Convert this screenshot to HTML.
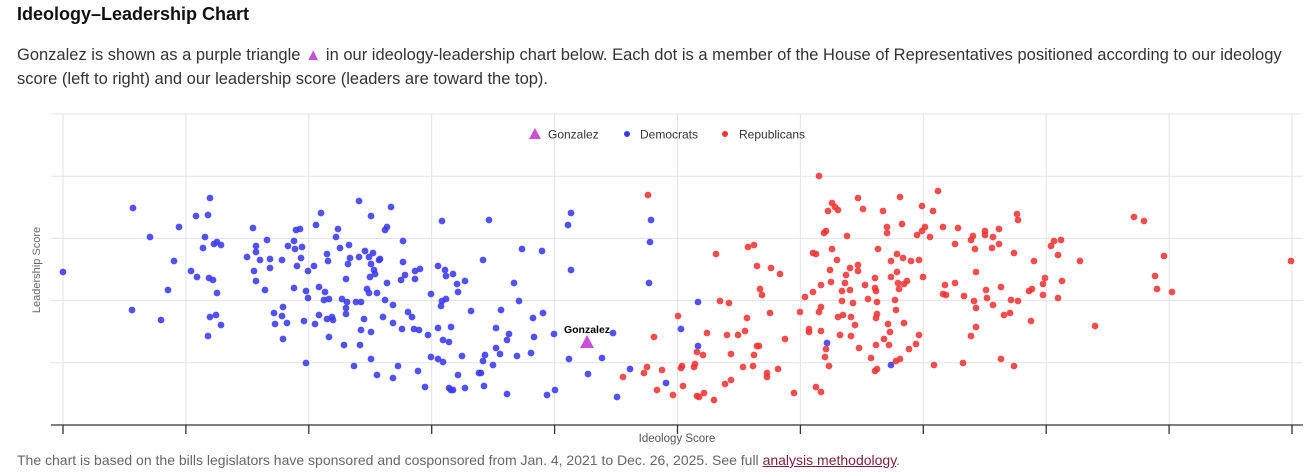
<!DOCTYPE html>
<html><head><meta charset="utf-8">
<style>
body{margin:0;background:#fff;width:1312px;height:476px;overflow:hidden;font-family:"Liberation Sans",Arial,sans-serif;}
h2{position:absolute;left:17px;top:4px;margin:0;font-size:18px;font-weight:bold;color:#111;}
p.desc{position:absolute;left:17px;top:44px;width:1272px;margin:0;font-size:16.5px;line-height:23.5px;color:#333;}
p.foot{position:absolute;left:17px;top:452px;margin:0;font-size:14px;color:#666;}
p.foot a{color:#7a1f3d;text-decoration:underline;}
svg{position:absolute;left:0;top:0;}
</style></head><body>
<h2>Ideology–Leadership Chart</h2>
<p class="desc">Gonzalez is shown as a purple triangle <span style="color:#c94fd6">▲</span> in our ideology-leadership chart below. Each dot is a member of the House of Representatives positioned according to our ideology score (left to right) and our leadership score (leaders are toward the top).</p>
<svg id="chart" width="1312" height="476"></svg>
<p class="foot">The chart is based on the bills legislators have sponsored and cosponsored from Jan. 4, 2021 to Dec. 26, 2025. See full <a>analysis methodology</a>.</p>
<script>
const demX=[0,70,87,69,98,105,111,116,133,147,145,142,140,151,154,158,128,134,146,150,154,147,153,158,145,190,184,193,193,197,191,193,202,204,207,207,219,225,231,232,233,237,239,238,234,231,220,211,219,212,224,220,241,243,245,245,243,251,253,258,256,262,261,266,264,265,256,252,264,269,270,266,273,275,277,286,287,285,283,279,284,283,283,281,291,293,298,296,296,302,306,310,308,308,307,311,312,304,306,314,316,317,301,298,308,297,308,314,322,324,328,324,322,330,320,330,339,335,330,340,340,342,338,352,357,352,345,349,351,356,365,355,362,368,375,379,382,383,390,394,395,379,383,378,375,388,380,386,368,375,380,395,386,390,388,426,420,402,451,459,479,456,408,438,470,480,433,446,444,471,491,399,422,420,437,454,468,433,430,416,418,402,421,444,484,492,505,508,508,506,525,539,550,554,567,588,587,586,603,618,635,635,764,828];
const demY=[153,217,188,115,105,135,164,198,209,227,210,188,177,181,183,180,154,148,147,145,132,108,110,100,89,197,168,179,173,165,154,144,135,185,166,157,165,179,184,176,195,196,178,167,159,137,118,112,109,101,102,86,104,134,154,127,62,159,200,212,138,133,125,126,171,164,110,101,106,108,105,88,188,196,177,180,167,161,146,126,123,117,111,80,59,123,123,224,168,174,168,172,209,161,148,155,151,136,132,132,165,166,106,95,93,80,66,50,195,198,218,142,125,120,108,102,96,59,47,184,163,150,145,154,156,146,113,108,96,95,90,54,38,131,159,204,155,149,151,141,133,124,126,119,97,98,85,83,68,66,63,50,37,35,35,205,165,144,142,176,174,124,114,115,107,112,97,91,85,88,91,69,70,64,71,69,72,77,60,52,52,37,39,31,30,35,200,212,155,66,51,67,92,28,56,205,183,142,42,96,123,79,82,60];
const repX=[585,615,591,560,581,584,594,599,610,618,619,620,631,632,634,640,634,636,641,651,644,653,657,666,664,668,662,668,675,682,684,680,690,691,694,696,685,691,694,697,699,707,708,717,722,704,704,715,731,737,742,746,746,750,758,758,756,758,753,758,762,763,766,756,750,753,769,774,767,768,761,763,765,769,772,775,784,783,782,787,787,779,779,790,775,780,788,792,777,788,795,795,795,796,800,802,805,808,812,814,813,813,814,814,812,813,812,815,820,824,824,837,839,828,834,840,848,856,834,828,835,836,841,844,832,833,825,827,821,826,841,846,853,856,833,837,859,870,875,854,859,862,867,860,871,880,895,892,882,880,883,892,901,900,908,910,912,922,922,930,936,929,936,913,911,913,923,924,930,938,913,908,941,947,948,955,938,951,951,954,955,971,966,969,968,980,982,980,995,999,995,988,991,998,1017,1032,1071,1081,1101,1092,1094,1109,1228];
const repY=[230,109,88,48,52,58,35,55,30,57,59,39,58,61,73,70,29,28,32,25,92,171,124,122,90,71,41,45,90,94,107,58,59,70,79,79,178,180,159,136,130,112,157,151,86,52,48,56,32,113,128,96,93,133,140,94,113,118,38,33,68,76,59,249,172,171,176,165,155,143,192,194,214,222,218,215,189,150,142,157,135,134,124,122,108,110,108,100,90,89,227,160,154,77,216,140,126,67,54,56,80,107,111,123,137,134,147,176,214,198,192,228,201,164,171,167,164,165,153,148,142,136,141,144,125,115,101,93,86,80,102,76,81,90,64,66,219,214,234,190,194,198,188,148,60,198,197,181,140,131,130,142,129,62,185,189,176,194,190,188,196,177,181,153,124,117,135,127,120,138,98,89,110,112,125,124,66,59,172,211,205,164,134,136,104,141,147,130,127,144,170,179,184,185,164,99,208,204,169,149,136,133,164];
const gonzX=[524], gonzY=[83];
const xTicks=[0,1,2,3,4,5,6,7,8,9,10];
const yGrid=[1,2,3,4,5];
const NS='http://www.w3.org/2000/svg';
const svg=document.getElementById('chart');
const X0=63,X1=1292,Y0=425,Y1=114;
const xs=d=>X0+d*(X1-X0)/1229;
const ys=d=>Y0-d*(Y0-Y1)/311;
const tickX=i=>X0+i*(X1-X0)/10;
const gridY=i=>Y0-i*(Y0-Y1)/5;
function mk(tag,attrs){const e=document.createElementNS(NS,tag);for(const k in attrs)e.setAttribute(k,attrs[k]);svg.appendChild(e);return e;}
xTicks.forEach(t=>{
 const l=mk('line',{x1:tickX(t),x2:tickX(t),y1:Y1,y2:Y0,stroke:'#e3e3e3','stroke-width':1});
 
 
 const k=mk('line',{x1:tickX(t),x2:tickX(t),y1:Y0,y2:Y0+9,stroke:'#333','stroke-width':1.3});
 
 
});
yGrid.forEach(t=>{
 const l=mk('line',{x1:51,x2:1303,y1:gridY(t),y2:gridY(t),stroke:'#e3e3e3','stroke-width':1});
 
 
});
const ax=mk('line',{x1:51,x2:1303,y1:Y0,y2:Y0,stroke:'#333','stroke-width':1.3});


demX.forEach((v,i)=>{
 const c=mk('circle',{cx:xs(v),cy:ys(demY[i]),r:3.4,fill:'#3a3af2','fill-opacity':0.88});
 
 
});
repX.forEach((v,i)=>{
 const c=mk('circle',{cx:xs(v),cy:ys(repY[i]),r:3.4,fill:'#f03535','fill-opacity':0.88});
 
 
});
gonzX.forEach((v,i)=>{
 const cx=xs(v),cy=ys(gonzY[i]);
 const p=mk('polygon',{points:`${cx},${cy-7} ${cx-7},${cy+6} ${cx+7},${cy+6}`,fill:'#c94fd6'});
 
 
 const t=mk('text',{x:cx,y:cy-9,'text-anchor':'middle','font-size':10.5,'font-weight':'bold',fill:'#000','font-family':'Liberation Sans, Arial, sans-serif'});
 t.textContent='Gonzalez';
 
 
});
const yt=mk('text',{x:0,y:0,transform:'translate(40,270) rotate(-90)','text-anchor':'middle','font-size':11,fill:'#666','font-family':'Liberation Sans, Arial, sans-serif'});
yt.textContent='Leadership Score';


const xt=mk('text',{x:677,y:442,'text-anchor':'middle','font-size':11.5,fill:'#555','font-family':'Liberation Sans, Arial, sans-serif'});
xt.textContent='Ideology Score';


const lg=mk('polygon',{points:'535,128 529,139 541,139',fill:'#c94fd6'});


const legItems=[[548,'Gonzalez'],[640,'Democrats'],[739,'Republicans']];
const ld=mk('circle',{cx:627,cy:134,r:3,fill:'#3a3af2'});


const lr=mk('circle',{cx:725,cy:134,r:3,fill:'#f03535'});


legItems.forEach(it=>{
 const t=mk('text',{x:it[0],y:138.5,'font-size':12,fill:'#333','font-family':'Liberation Sans, Arial, sans-serif'});
 t.textContent=it[1];
 
 
});
</script>
</body></html>
